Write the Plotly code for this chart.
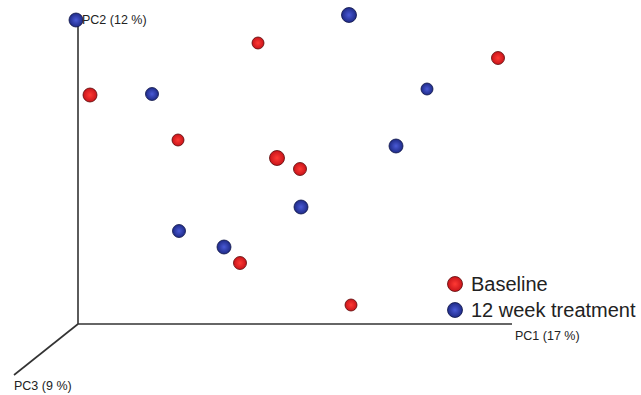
import plotly.graph_objects as go

# Projected ordination coordinates (screen-plane units) for each sample
baseline_x = [258, 498, 90, 178, 277, 300, 240, 351]
baseline_y = [43, 58, 95, 140, 158, 169, 263, 305]
baseline_size = [12, 13, 14, 12, 15, 13, 13, 12]

treat_x = [76, 349, 152, 427, 396, 301, 179, 224]
treat_y = [20, 15, 94, 89, 146, 207, 231, 247]
treat_size = [14, 15, 13, 12, 14, 14, 13, 14]

group_names = ["Baseline", "12 week treatment"]
axis_labels = ["PC1 (17 %)", "PC2 (12 %)", "PC3 (9 %)"]

# sphere shading: rim colour, centre highlight, outline
RED = ("#c8141a", "#ff3a34", "#5a0808")
BLUE = ("#1e2a86", "#4a5ad6", "#0e1448")

origin = (78, 324)
pc1_end = (512, 324)
pc2_end = (78, 20)
pc3_end = (14, 375)

fig = go.Figure()

# axis frame
for end in (pc1_end, pc2_end, pc3_end):
    fig.add_trace(go.Scatter(x=[origin[0], end[0]], y=[origin[1], end[1]],
                             mode="lines", line=dict(color="#333333", width=1.6),
                             hoverinfo="skip", showlegend=False))


def spheres(xs, ys, sizes, shade, name):
    rim, centre, edge = shade
    return go.Scatter(x=xs, y=ys, mode="markers", name=name, showlegend=False,
                      marker=dict(size=sizes, color=rim, opacity=1,
                                  gradient=dict(type="radial", color=centre),
                                  line=dict(color=edge, width=0.8)))


fig.add_trace(spheres(baseline_x, baseline_y, baseline_size, RED, group_names[0]))
fig.add_trace(spheres(treat_x, treat_y, treat_size, BLUE, group_names[1]))

# legend
fig.add_trace(spheres([455], [284], [15], RED, group_names[0]))
fig.add_trace(spheres([455], [310], [15], BLUE, group_names[1]))

font = "Liberation Sans, Arial, sans-serif"
ann = [
    dict(x=469, y=284, text=group_names[0], size=20),
    dict(x=469, y=310, text=group_names[1], size=20),
    dict(x=513, y=336, text=axis_labels[0], size=12.5),
    dict(x=80, y=20, text=axis_labels[1], size=12.5),
    dict(x=12, y=386, text=axis_labels[2], size=12.5),
]
fig.update_layout(
    annotations=[dict(x=a["x"], y=a["y"], text=a["text"], xanchor="left",
                      yanchor="middle", showarrow=False, xref="x", yref="y",
                      font=dict(family=font, size=a["size"], color="#222222"))
                 for a in ann],
    width=641, height=395,
    margin=dict(l=0, r=0, t=0, b=0),
    paper_bgcolor="white", plot_bgcolor="white",
    xaxis=dict(range=[0, 641], visible=False, fixedrange=True),
    yaxis=dict(range=[395, 0], visible=False, fixedrange=True),
    showlegend=False,
)

fig.write_html("out.html")
